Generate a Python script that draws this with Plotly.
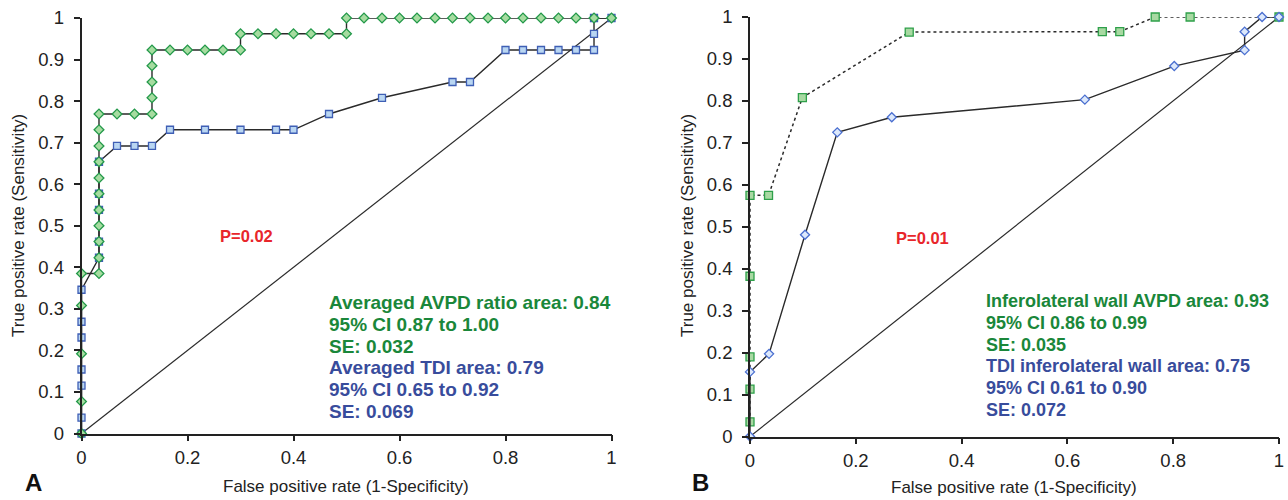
import plotly.graph_objects as go

# ---------------- Data ----------------
# Panel A – Averaged AVPD ratio (green diamonds)
a_avpd_x = [0, 0, 0, 0, 0, 0.033,
            0.033, 0.033, 0.033, 0.033, 0.033, 0.033, 0.033, 0.033, 0.033, 0.033,
            0.067, 0.1, 0.133, 0.133, 0.133, 0.133, 0.133,
            0.167, 0.2, 0.233, 0.267, 0.3,
            0.3, 0.333, 0.367, 0.4, 0.433, 0.467, 0.5,
            0.5, 0.533, 0.567, 0.6, 0.633, 0.667, 0.7, 0.733, 0.767, 0.8, 0.833,
            0.867, 0.9, 0.933, 0.967, 1.0]
a_avpd_y = [0, 0.077, 0.192, 0.308, 0.385, 0.385,
            0.423, 0.462, 0.5, 0.538, 0.577, 0.615, 0.654, 0.692, 0.731, 0.769,
            0.769, 0.769, 0.769, 0.808, 0.846, 0.885, 0.923,
            0.923, 0.923, 0.923, 0.923, 0.923,
            0.962, 0.962, 0.962, 0.962, 0.962, 0.962, 0.962,
            1.0, 1.0, 1.0, 1.0, 1.0, 1.0, 1.0, 1.0, 1.0, 1.0, 1.0,
            1.0, 1.0, 1.0, 1.0, 1.0]

# Panel A – Averaged TDI (blue squares)
a_tdi_x = [0, 0, 0, 0, 0, 0, 0,
           0.033, 0.033, 0.033, 0.033, 0.033,
           0.067, 0.1, 0.133, 0.167, 0.233, 0.3, 0.367, 0.4,
           0.467, 0.567, 0.7, 0.733,
           0.8, 0.833, 0.867, 0.9, 0.933, 0.967, 0.967, 0.967, 1.0]
a_tdi_y = [0, 0.038, 0.115, 0.154, 0.231, 0.269, 0.346,
           0.423, 0.462, 0.538, 0.577, 0.654,
           0.692, 0.692, 0.692, 0.731, 0.731, 0.731, 0.731, 0.731,
           0.769, 0.808, 0.846, 0.846,
           0.923, 0.923, 0.923, 0.923, 0.923, 0.923, 0.962, 1.0, 1.0]

# Panel B – Inferolateral wall AVPD (green squares, dotted)
b_avpd_x = [0, 0, 0, 0, 0, 0.035, 0.099, 0.301, 0.666, 0.699, 0.766, 0.832, 1.0]
b_avpd_y = [0.035, 0.113, 0.19, 0.382, 0.575, 0.575, 0.808, 0.964, 0.965, 0.965, 1.0, 1.0, 1.0]

# Panel B – TDI inferolateral wall (blue diamonds)
b_tdi_x = [0, 0, 0.036, 0.104, 0.165, 0.268, 0.633, 0.802, 0.935, 0.935, 0.968, 1.0]
b_tdi_y = [0, 0.154, 0.197, 0.481, 0.725, 0.761, 0.803, 0.883, 0.921, 0.965, 1.0, 1.0]

# Reference diagonal
diag = [0, 1]

# Tick labels
y_ticks = [0, 0.1, 0.2, 0.3, 0.4, 0.5, 0.6, 0.7, 0.8, 0.9, 1]
y_labels = ["0", "0.1", "0.2", "0.3", "0.4", "0.5", "0.6", "0.7", "0.8", "0.9", "1"]
x_ticks = [0, 0.2, 0.4, 0.6, 0.8, 1]
x_labels = ["0", "0.2", "0.4", "0.6", "0.8", "1"]

# Text
a_lines = ["Averaged AVPD ratio area: 0.84", "95% CI 0.87 to 1.00", "SE: 0.032",
           "Averaged TDI area: 0.79", "95% CI 0.65 to 0.92", "SE: 0.069"]
b_lines = ["Inferolateral wall AVPD area: 0.93", "95% CI 0.86 to 0.99", "SE: 0.035",
           "TDI inferolateral wall area: 0.75", "95% CI 0.61 to 0.90", "SE: 0.072"]
p_texts = ["P=0.02", "P=0.01"]

# ---------------- Styling ----------------
W, H = 1288, 500
FONT = "Arial, Liberation Sans, sans-serif"
GREEN_TXT = "#1a873a"
BLUE_TXT = "#384c9c"
RED_TXT = "#e8262b"
LINE = "#2a2a2a"


def px(x, y):
    return x / W, 1 - y / H


fig = go.Figure()

# Panel A
fig.add_trace(go.Scatter(x=diag, y=diag, mode="lines", line=dict(color=LINE, width=1.2),
                         xaxis="x", yaxis="y", cliponaxis=False, hoverinfo="skip"))
fig.add_trace(go.Scatter(x=a_tdi_x, y=a_tdi_y, mode="lines+markers",
                         line=dict(color=LINE, width=1.4),
                         marker=dict(symbol="square", size=7, color="#b9d6f2",
                                     line=dict(color="#3f5fb5", width=1.3)),
                         xaxis="x", yaxis="y", cliponaxis=False))
fig.add_trace(go.Scatter(x=a_avpd_x, y=a_avpd_y, mode="lines+markers",
                         line=dict(color=LINE, width=1.4),
                         marker=dict(symbol="diamond", size=7.5, color="#a6dca0",
                                     line=dict(color="#23994a", width=1.3)),
                         xaxis="x", yaxis="y", cliponaxis=False))

# Panel B
fig.add_trace(go.Scatter(x=diag, y=diag, mode="lines", line=dict(color=LINE, width=1.2),
                         xaxis="x2", yaxis="y2", cliponaxis=False, hoverinfo="skip"))
fig.add_trace(go.Scatter(x=b_avpd_x, y=b_avpd_y, mode="lines+markers",
                         line=dict(color=LINE, width=1.5, dash="dot"),
                         marker=dict(symbol="square", size=8, color="#a8d9a2",
                                     line=dict(color="#2ea04a", width=1.3)),
                         xaxis="x2", yaxis="y2", cliponaxis=False))
fig.add_trace(go.Scatter(x=b_tdi_x, y=b_tdi_y, mode="lines+markers",
                         line=dict(color=LINE, width=1.4),
                         marker=dict(symbol="diamond", size=7, color="#dce8fb",
                                     line=dict(color="#4a6fd0", width=1.3)),
                         xaxis="x2", yaxis="y2", cliponaxis=False))

axis_common = dict(range=[0, 1], showgrid=False, zeroline=False, showline=True,
                   linecolor="#222", linewidth=1.5, ticks="outside", ticklen=6,
                   tickwidth=1.5, tickcolor="#222", automargin=False,
                   tickfont=dict(family=FONT, size=18.5, color="#222"))

xa = dict(axis_common, tickvals=x_ticks, ticktext=x_labels, ticklabelstandoff=1)
ya = dict(axis_common, tickvals=y_ticks, ticktext=y_labels, ticklabelstandoff=6)

fig.update_layout(
    width=W, height=H,
    margin=dict(l=0, r=0, t=0, b=0),
    paper_bgcolor="white", plot_bgcolor="white",
    showlegend=False,
    xaxis=dict(xa, domain=[81.5 / W, 611.5 / W], anchor="y"),
    yaxis=dict(ya, domain=[1 - 433.5 / H, 1 - 18 / H], anchor="x"),
    xaxis2=dict(xa, domain=[750 / W, 1279 / W], anchor="y2"),
    yaxis2=dict(ya, domain=[1 - 436.5 / H, 1 - 17 / H], anchor="x2"),
)

ann = []
# axis titles
for cx, cy, txt, ang in [
    ((81.5 + 611.5) / 2, 486, "False positive rate (1-Specificity)", 0),
    ((750 + 1279) / 2, 487, "False positive rate (1-Specificity)", 0),
    (19, 226, "True positive rate (Sensitivity)", -90),
    (688, 226, "True positive rate (Sensitivity)", -90),
]:
    x, y = px(cx, cy)
    ann.append(dict(x=x, y=y, xref="paper", yref="paper", text=txt, showarrow=False,
                    textangle=ang, xanchor="center", yanchor="middle",
                    font=dict(family=FONT, size=17, color="#222")))

# panel letters
for cx, cy, txt in [(33, 482, "A"), (700, 482, "B")]:
    x, y = px(cx, cy)
    ann.append(dict(x=x, y=y, xref="paper", yref="paper", text="<b>%s</b>" % txt,
                    showarrow=False, xanchor="center", yanchor="middle",
                    font=dict(family=FONT, size=24, color="#111")))

# P values
for (cx, cy), txt in zip([(247, 236), (922, 238)], p_texts):
    x, y = px(cx, cy)
    ann.append(dict(x=x, y=y, xref="paper", yref="paper", text="<b>%s</b>" % txt,
                    showarrow=False, xanchor="center", yanchor="middle",
                    font=dict(family=FONT, size=16.5, color=RED_TXT)))

# AUC blocks
a_ys = [302, 324, 346, 367, 389, 411]
b_ys = [301, 323, 345, 366, 388, 410]
for lines, x0, ys, fs in [(a_lines, 327, a_ys, 19), (b_lines, 984, b_ys, 18)]:
    for i, (txt, cy) in enumerate(zip(lines, ys)):
        x, y = px(x0, cy)
        col = GREEN_TXT if i < 3 else BLUE_TXT
        ann.append(dict(x=x, y=y, xref="paper", yref="paper", text="<b>%s</b>" % txt,
                        showarrow=False, xanchor="left", yanchor="middle",
                        font=dict(family=FONT, size=fs, color=col)))

fig.update_layout(annotations=ann)
fig.write_html("out.html", config={"displayModeBar": False},
               post_script="document.body.style.margin='0';document.body.style.padding='0';")
